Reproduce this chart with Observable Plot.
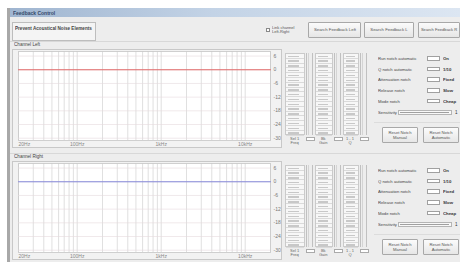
<!DOCTYPE html>
<html><head><meta charset="utf-8">
<script src="https://cdn.jsdelivr.net/npm/d3@7"></script>
<script src="https://cdn.jsdelivr.net/npm/@observablehq/plot@0.6"></script>
<style>
body{margin:0;width:460px;height:262px;overflow:hidden;background:#fff;font-family:"Liberation Sans",Arial,sans-serif;position:relative}
.a{position:absolute;box-sizing:border-box;white-space:nowrap;line-height:1}
.t{position:absolute;white-space:nowrap;line-height:1.15;font-size:10px;transform-origin:0 0}
.btn{border:1px solid #a8a8a8;background:linear-gradient(#fbfbfb,#e6e6e6);border-radius:1px}
.ct{position:absolute;left:50%;top:50%;white-space:nowrap;text-align:center;line-height:1.15;font-size:10px;color:#555}
</style></head><body>
<div id="root"></div>
<script>
// ---- data ----
const gridFreqs = [20,30,40,50,60,70,80,90,100,200,300,400,500,600,700,800,900,1000,2000,3000,4000,5000,6000,7000,8000,9000,10000,20000];
const xTickValues = [20,100,1000,10000];
const xTickLabels = ["20Hz","100Hz","1kHz","10kHz"];
const dbTicks = [6,0,-6,-12,-18,-24,-30];
const leftFreq = [20,20000];
const leftGain = [0,0];
const rightFreq = [20,20000];
const rightGain = [0,0];
const paramLabels = ["Run notch automatic","Q notch automatic","Attenuation notch","Release notch","Mode notch"];
const paramValues = ["On","1/10","Fixed","Slow","Cheap"];
const columnLabels = [["Sel 1","Freq"],["Bk","Gain"],["1 - 1","Q"]];

const root = document.getElementById("root");
function box(x,y,w,h,css){const d=document.createElement("div");d.className="a";d.style.cssText=`left:${x}px;top:${y}px;width:${w}px;height:${h}px;`+(css||"");root.appendChild(d);return d;}
function txt(x,y,s,px,css){const d=document.createElement("div");d.className="t";d.style.cssText=`left:${x}px;top:${y}px;transform:scale(${px/10});`+(css||"");d.innerHTML=s;root.appendChild(d);return d;}
function btn(x,y,w,h,s,px){const b=box(x,y,w,h,"");b.classList.add("btn");const c=document.createElement("div");c.className="ct";c.style.transform=`translate(-50%,-50%) scale(${px/10})`;c.innerHTML=s;b.appendChild(c);return b;}

// window frame
box(7,8,453,254,"background:#ededed;");
box(7,8,3,254,"background:#a8a8a8;");
box(10,8,450,9,"background:linear-gradient(to right,#9fb5d0,#c3d3e6 45%,#dce6f2);");
txt(13,10,"Feedback Control",5,"color:#34496a;font-weight:bold;");

// top row
box(12,22,84,19,"border:1px solid #bdbdbd;background:#f4f4f4;");
txt(15,26,"Prevent Acoustical Noise Elements",4.6,"color:#444;font-weight:bold;");
box(266,28,4,4,"border:0.6px solid #888;background:#fff;");
txt(272,25,"Link channel<br>Left-Right",4,"color:#555;");
btn(308,22,53,16,"Search Feedback Left",4.3);
btn(364,22,50,16,"Search Feedback L",4.3);
btn(418,22,42,16,"Search Feedback R",4.1);

function chart(fr, gn, color){
  const curve = fr.map((f,i)=>({f, db: gn[i]}));
  const first = [{f:xTickValues[0], s:xTickLabels[0]}];
  const rest = xTickValues.slice(1).map((f,i)=>({f, s:xTickLabels[i+1]}));
  return Plot.plot({
    width:269, height:101,
    marginLeft:6, marginRight:11, marginTop:2, marginBottom:10,
    style:{background:"transparent", fontFamily:"Liberation Sans", fontSize:"5px", color:"#777"},
    x:{type:"log", domain:[20,20000], axis:null},
    y:{domain:[-31,8], axis:null},
    marks:[
      Plot.frame({fill:"white", stroke:"#cfcfcf"}),
      Plot.ruleX(gridFreqs,{stroke:"#cbcbcb", strokeWidth:0.6}),
      Plot.ruleY(dbTicks,{stroke:"#e6dadd", strokeWidth:0.6}),
      Plot.line(curve,{x:"f", y:"db", stroke:color, strokeWidth:0.9}),
      Plot.text(first,{x:"f", text:"s", frameAnchor:"bottom", dy:5, textAnchor:"start", fill:"#888", fontSize:5}),
      Plot.text(rest,{x:"f", text:"s", frameAnchor:"bottom", dy:5, textAnchor:"middle", fill:"#888", fontSize:5}),
      Plot.text(dbTicks,{y:d=>d, text:d=>String(d), frameAnchor:"right", dx:3, textAnchor:"start", fill:"#777", fontSize:5})
    ]
  });
}

function section(o, title, fr, gn, color){
  box(10,o+41,450,1,"background:#d8d8d8;");
  txt(14,o+42,title,4.6,"color:#444;");
  box(12,o+49,270,99,"border:1px solid #c8c8c8;background:#f2f2f2;");
  const c = box(12,o+49,269,101,"");
  c.appendChild(chart(fr,gn,color));
  // middle columns
  const cols=[[285,20],[315,18],[343,16]];
  cols.forEach(([cx,cw],k)=>{
    box(cx,o+53,cw,82,"border:1px solid #cacaca;background:#f7f7f7;");
    for(let r=0;r<17;r++){
      box(cx+1,o+54+r*4.8,cw-2,4.8,"border-bottom:0.5px solid #dadada;");
      box(cx+3,o+55.5+r*4.8,cw*0.55,1.6,"background:#c8c8c8;");
    }
    box(cx+cw+1,o+53,7,82,"border-left:0.6px solid #c0c0c0;border-right:0.6px solid #c0c0c0;");
    box(cx+cw+3,o+53,1,82,"background:#d4d4d4;");
    txt(cx+cw/2-5,o+136,columnLabels[k][0]+"<br>"+columnLabels[k][1],4,"color:#666;text-align:center;");
    box(cx+cw+1,o+137,9,4,"border:0.5px solid #aaa;background:#fff;");
  });
  // right parameter panel
  paramLabels.forEach((t,i)=>{
    const y=o+56+i*10.7;
    txt(378,y,t,4.2,"color:#444;");
    box(427,y,13,4.5,"border:0.6px solid #a0a0a0;background:#fff;");
    txt(443,y,paramValues[i],4.3,"color:#333;font-weight:bold;");
  });
  txt(378,o+110,"Sensitivity",4.2,"color:#444;");
  box(398,o+110,54,5,"border:0.6px solid #b4b4b4;background:#f8f8f8;");
  box(400,o+112,49,0.8,"background:#a0a0a0;");
  txt(455,o+110,"1",4.5,"color:#333;");
  box(374,o+122,86,1,"background:#dcdcdc;");
  btn(382,o+127,36,16,"Reset Notch<br>Manual",4.2);
  btn(423,o+127,36,16,"Reset Notch<br>Automatic",4.2);
}
section(0,"Channel Left",leftFreq,leftGain,"#e05a5a");
section(112,"Channel Right",rightFreq,rightGain,"#7b7fd8");
</script>
</body></html>
